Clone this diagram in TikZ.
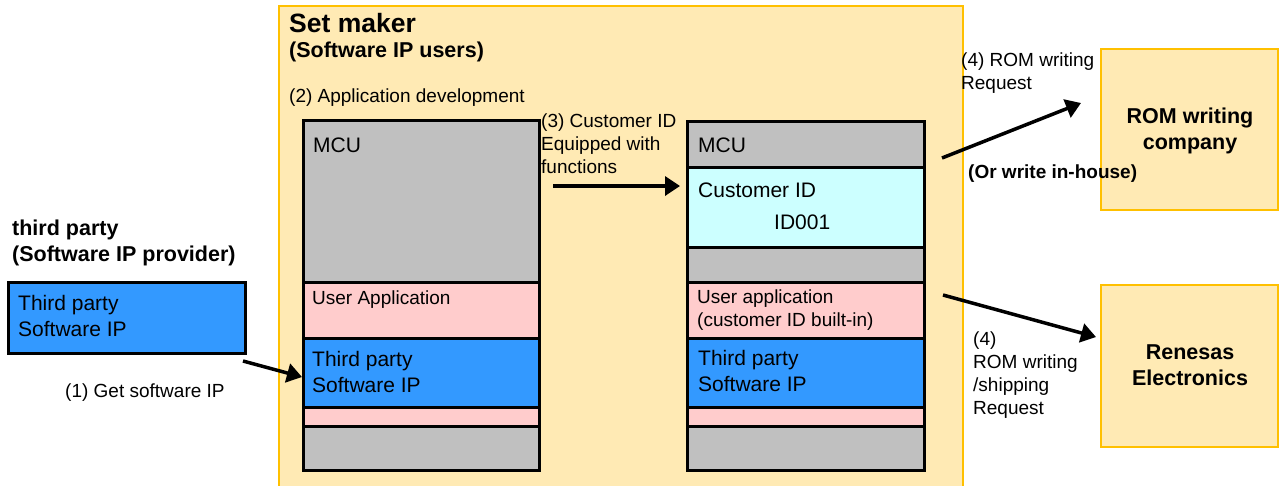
\documentclass[tikz,border=0pt]{standalone}
\usepackage{fontspec}
\setmainfont{Liberation Sans}
\usetikzlibrary{arrows.meta}
\definecolor{beige}{HTML}{FFEAB4}
\definecolor{gold}{HTML}{FFC000}
\definecolor{mcugray}{HTML}{C0C0C0}
\definecolor{apppink}{HTML}{FFCCCC}
\definecolor{ipblue}{HTML}{3399FF}
\definecolor{idcyan}{HTML}{CCFFFF}
\tikzset{
  layer/.style={draw=black, line width=3pt},
  firm/.style={draw=gold, fill=beige, line width=1.5pt},
  lbl/.style={anchor=base west, inner sep=0pt, font=\fontsize{19}{23}\selectfont, align=left},
  txt/.style={anchor=base west, inner sep=0pt, font=\fontsize{21}{26}\selectfont, align=left},
  ttl/.style={anchor=base west, inner sep=0pt, font=\fontsize{21.5}{26}\selectfont\bfseries, align=left},
  req/.style={-{Triangle[length=15pt,width=19pt]}, line width=3.5pt},
}

\begin{document}
\begin{tikzpicture}[x=1pt, y=-1pt]
			%%%%% START %%%%%
			\useasboundingbox (0,0) rectangle (1279,485);
			
			% companies
			\draw[firm] (279,6) rectangle (963,492);
			\draw[firm] (1101,49) rectangle (1278,210);
			\draw[firm] (1101,285) rectangle (1278,447);
			
			% multi-line texts sit on their last line
			\node[ttl, font=\fontsize{26.5}{30}\selectfont\bfseries] (maker) at (289,32) {Set maker};
			\node[ttl] (users) at (289,57) {(Software IP users)};
			\node[ttl] (third) at (12,261) {third party\\(Software IP provider)};
			\node[ttl, anchor=base, align=center] (romco) at (1190,149) {ROM writing\\company};
			\node[ttl, anchor=base, align=center] (renesas) at (1190,385) {Renesas\\Electronics};
			
			% provider box
			\draw[layer, fill=ipblue] (8,282) rectangle (245,353);
			\node[txt] (tpip) at (18,336) {Third party\\Software IP};
			
			% MCU before the customer ID
			\draw[layer, fill=mcugray] (303,120) rectangle (539,282);
			\draw[layer, fill=apppink] (303,282) rectangle (539,338);
			\draw[layer, fill=ipblue] (303,338) rectangle (539,407);
			\draw[layer, fill=apppink] (303,407) rectangle (539,426);
			\draw[layer, fill=mcugray] (303,426) rectangle (539,470);
			\node[txt] (mcua) at (313,152) {MCU};
			\node[lbl] (appa) at (312,304) {User Application};
			\node[txt] (ipa) at (312,392) {Third party\\Software IP};
			
			% MCU with the customer ID
			\draw[layer, fill=mcugray] (687,121) rectangle (924,167);
			\draw[layer, fill=idcyan] (687,167) rectangle (924,247);
			\draw[layer, fill=mcugray] (687,247) rectangle (924,282);
			\draw[layer, fill=apppink] (687,282) rectangle (924,338);
			\draw[layer, fill=ipblue] (687,338) rectangle (924,407);
			\draw[layer, fill=apppink] (687,407) rectangle (924,426);
			\draw[layer, fill=mcugray] (687,426) rectangle (924,470);
			\node[txt] (mcub) at (698,152) {MCU};
			\node[txt] (cid) at (698,197) {Customer ID};
			\node[txt] (idnum) at (774,229) {ID001};
			\node[lbl] (appb) at (697,326) {User application\\(customer ID built-in)};
			\node[txt] (ipb) at (698,391) {Third party\\Software IP};
			
			% steps
			\node[lbl] (get) at (65,397) {(1) Get software IP};
			\node[lbl] (dev) at (289,102) {(2) Application development};
			\node[lbl] (equip) at (541,173) {(3) Customer ID\\Equipped with\\functions};
			\node[lbl] (romreq) at (961,89) {(4) ROM writing\\Request};
			\node[lbl, font=\fontsize{19}{23}\selectfont\bfseries] (inhouse) at (968,178) {(Or write in-house)};
			\node[lbl] (shipreq) at (973,414) {(4)\\ROM writing\\/shipping\\Request};
			
			\coordinate (s1) at (243,361);
			\coordinate (e1) at (302,377);
			\coordinate (s3) at (553,186);
			\coordinate (e3) at (680,186);
			\coordinate (s4a) at (942,158);
			\coordinate (e4a) at (1081,103);
			\coordinate (s4b) at (943,295);
			\coordinate (e4b) at (1096,337);
			
			\draw[req] (s1) -- (e1);
			\draw[req] (s3) -- (e3);
			\draw[req] (s4a) -- (e4a);
			\draw[req] (s4b) -- (e4b);
			%%%%% END %%%%%
\end{tikzpicture}
\end{document}
